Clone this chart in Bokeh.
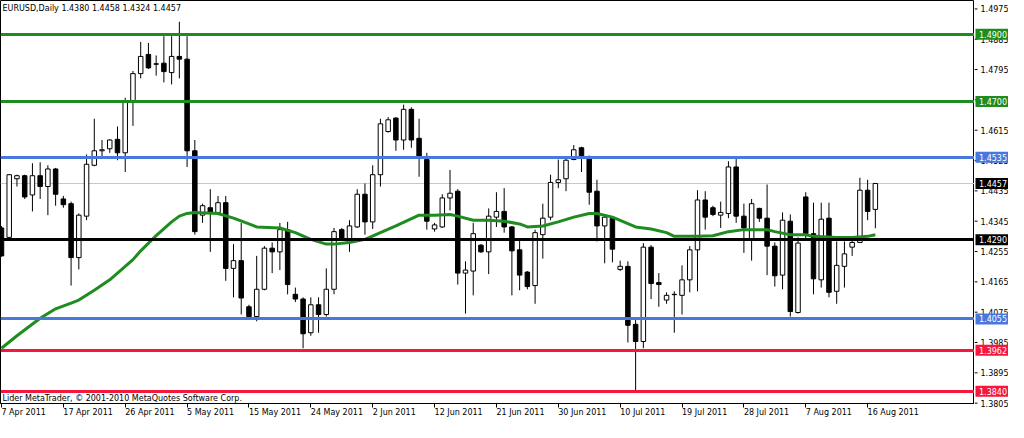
from bokeh.plotting import figure
from bokeh.layouts import row
from bokeh.models import ColumnDataSource, FixedTicker, Label, Range1d
from bokeh.core.properties import value
from bokeh.embed import file_html
from bokeh.resources import INLINE

symbol_title = "EURUSD,Daily  1.4380 1.4458 1.4324 1.4457"
copyright_text = "Lider MetaTrader, \u00a9 2001-2010 MetaQuotes Software Corp."

date_ticks = [0, 8, 16, 24, 32, 40, 48, 56, 64, 72, 80, 88, 96, 104, 112]
date_labels = ["7 Apr 2011", "17 Apr 2011", "26 Apr 2011", "5 May 2011", "15 May 2011",
               "24 May 2011", "2 Jun 2011", "12 Jun 2011", "21 Jun 2011", "30 Jun 2011",
               "10 Jul 2011", "19 Jul 2011", "28 Jul 2011", "7 Aug 2011", "16 Aug 2011"]
price_ticks = [1.3805, 1.3895, 1.3985, 1.4075, 1.4165, 1.4255, 1.4345, 1.4435,
               1.4525, 1.4615, 1.4705, 1.4795, 1.4885, 1.4975]

opens = [1.4325, 1.4297, 1.4471, 1.4480, 1.4423, 1.4480, 1.4448, 1.4500, 1.4411, 1.4397,
         1.4237, 1.4360, 1.4511, 1.4554, 1.4560, 1.4588, 1.4548, 1.4700, 1.4783, 1.4840,
         1.4812, 1.4814, 1.4786, 1.4834, 1.4826, 1.4554, 1.4363, 1.4385, 1.4371, 1.4400,
         1.4205, 1.4228, 1.4091, 1.4062, 1.4143, 1.4265, 1.4254, 1.4320, 1.4128, 1.4114,
         1.4014, 1.4097, 1.4068, 1.4143, 1.4320, 1.4282, 1.4328, 1.4425, 1.4343, 1.4483,
         1.4611, 1.4651, 1.4586, 1.4677, 1.4591, 1.4528, 1.4322, 1.4328, 1.4414, 1.4434,
         1.4191, 1.4197, 1.4274, 1.4254, 1.4357, 1.4374, 1.4328, 1.4260, 1.4194, 1.4154,
         1.4305, 1.4357, 1.4460, 1.4471, 1.4528, 1.4563, 1.4537, 1.4434, 1.4331, 1.4354,
         1.4202, 1.4211, 1.4039, 1.3988, 1.4268, 1.4163, 1.4111, 1.4128, 1.4125, 1.4171,
         1.4260, 1.4408, 1.4385, 1.4363, 1.4368, 1.4506, 1.4360, 1.4291, 1.4383, 1.4354,
         1.4271, 1.4185, 1.4345, 1.4074, 1.4417, 1.4308, 1.4171, 1.4354, 1.4137, 1.4211,
         1.4268, 1.4282, 1.4437, 1.4380]
highs = [1.4331, 1.4485, 1.4483, 1.4483, 1.4517, 1.4520, 1.4511, 1.4503, 1.4420, 1.4403,
         1.4368, 1.4543, 1.4649, 1.4586, 1.4588, 1.4626, 1.4711, 1.4791, 1.4877, 1.4874,
         1.4837, 1.4894, 1.4894, 1.4937, 1.4894, 1.4586, 1.4397, 1.4440, 1.4420, 1.4420,
         1.4277, 1.4340, 1.4097, 1.4242, 1.4271, 1.4282, 1.4340, 1.4343, 1.4148, 1.4119,
         1.4119, 1.4119, 1.4205, 1.4325, 1.4325, 1.4348, 1.4440, 1.4457, 1.4511, 1.4649,
         1.4654, 1.4654, 1.4691, 1.4683, 1.4649, 1.4548, 1.4340, 1.4425, 1.4497, 1.4440,
         1.4226, 1.4340, 1.4277, 1.4383, 1.4431, 1.4443, 1.4331, 1.4291, 1.4197, 1.4320,
         1.4397, 1.4483, 1.4528, 1.4534, 1.4571, 1.4566, 1.4540, 1.4468, 1.4360, 1.4360,
         1.4228, 1.4226, 1.4054, 1.4280, 1.4274, 1.4191, 1.4134, 1.4137, 1.4214, 1.4271,
         1.4437, 1.4434, 1.4391, 1.4403, 1.4523, 1.4531, 1.4397, 1.4411, 1.4385, 1.4454,
         1.4282, 1.4371, 1.4365, 1.4297, 1.4431, 1.4400, 1.4400, 1.4400, 1.4285, 1.4285,
         1.4291, 1.4474, 1.4468, 1.4458]
lows = [1.4240, 1.4291, 1.4448, 1.4411, 1.4374, 1.4411, 1.4363, 1.4391, 1.4385, 1.4154,
        1.4202, 1.4348, 1.4508, 1.4534, 1.4548, 1.4526, 1.4491, 1.4628, 1.4769, 1.4797,
        1.4777, 1.4757, 1.4751, 1.4769, 1.4506, 1.4305, 1.4340, 1.4254, 1.4363, 1.4168,
        1.4119, 1.4068, 1.4057, 1.4048, 1.4140, 1.4191, 1.4200, 1.4128, 1.4105, 1.3968,
        1.4005, 1.4014, 1.4062, 1.4128, 1.4291, 1.4254, 1.4325, 1.4305, 1.4322, 1.4448,
        1.4608, 1.4554, 1.4557, 1.4563, 1.4477, 1.4320, 1.4314, 1.4325, 1.4377, 1.4157,
        1.4071, 1.4125, 1.4251, 1.4188, 1.4328, 1.4311, 1.4125, 1.4140, 1.4143, 1.4100,
        1.4234, 1.4348, 1.4443, 1.4434, 1.4526, 1.4491, 1.4394, 1.4285, 1.4220, 1.4223,
        1.4197, 1.3985, 1.3839, 1.3968, 1.4114, 1.4091, 1.4100, 1.4014, 1.4068, 1.4134,
        1.4137, 1.4320, 1.4360, 1.4325, 1.4354, 1.4340, 1.4251, 1.4228, 1.4343, 1.4185,
        1.4151, 1.4143, 1.4062, 1.4071, 1.4291, 1.4128, 1.4148, 1.4119, 1.4100, 1.4148,
        1.4242, 1.4280, 1.4348, 1.4324]
closes = [1.4242, 1.4483, 1.4480, 1.4417, 1.4480, 1.4448, 1.4500, 1.4425, 1.4394, 1.4237,
          1.4363, 1.4514, 1.4554, 1.4557, 1.4586, 1.4548, 1.4700, 1.4783, 1.4834, 1.4800,
          1.4811, 1.4789, 1.4834, 1.4826, 1.4554, 1.4314, 1.4391, 1.4371, 1.4400, 1.4205,
          1.4228, 1.4117, 1.4062, 1.4143, 1.4265, 1.4254, 1.4320, 1.4157, 1.4114, 1.4011,
          1.4097, 1.4068, 1.4143, 1.4314, 1.4294, 1.4331, 1.4425, 1.4343, 1.4483, 1.4634,
          1.4646, 1.4586, 1.4677, 1.4586, 1.4534, 1.4345, 1.4334, 1.4414, 1.4428, 1.4191,
          1.4200, 1.4308, 1.4254, 1.4360, 1.4374, 1.4328, 1.4257, 1.4185, 1.4151, 1.4311,
          1.4354, 1.4460, 1.4468, 1.4526, 1.4557, 1.4534, 1.4431, 1.4331, 1.4357, 1.4262,
          1.4211, 1.4036, 1.3988, 1.4268, 1.4160, 1.4157, 1.4125, 1.4127, 1.4171, 1.4260,
          1.4408, 1.4357, 1.4365, 1.4371, 1.4506, 1.4360, 1.4325, 1.4397, 1.4354, 1.4271,
          1.4183, 1.4348, 1.4077, 1.4280, 1.4308, 1.4174, 1.4351, 1.4134, 1.4214, 1.4248,
          1.4282, 1.4437, 1.4374, 1.4457]

ma_bars = [0, 2, 5, 7, 9, 10, 12, 14, 15, 17, 18, 20, 22, 23, 24, 25, 28, 30, 32, 33,
           36, 38, 40, 42, 43, 45, 47, 49, 51, 54, 56, 58, 59, 61, 63, 65, 67, 68, 70, 72,
           74, 76, 77, 79, 82, 84, 86, 87, 90, 92, 94, 96, 99, 100, 102, 104, 105, 108, 110,
           112, 113]
ma_vals = [1.3968, 1.4005, 1.4057, 1.4085, 1.4102, 1.4111, 1.4140, 1.4171, 1.4191, 1.4231,
           1.4257, 1.4302, 1.4343, 1.4360, 1.4368, 1.4371, 1.4368, 1.4354, 1.4337, 1.4328,
           1.4325, 1.4311, 1.4291, 1.4277, 1.4277, 1.4282, 1.4291, 1.4311, 1.4331, 1.4363,
           1.4363, 1.4365, 1.4360, 1.4348, 1.4348, 1.4345, 1.4337, 1.4328, 1.4331, 1.4343,
           1.4357, 1.4368, 1.4368, 1.4357, 1.4328, 1.4322, 1.4311, 1.4300, 1.4300, 1.4302,
           1.4314, 1.4320, 1.4320, 1.4314, 1.4305, 1.4305, 1.4300, 1.4297, 1.4297, 1.4300,
           1.4305]

level_prices = [1.4900, 1.4700, 1.4535, 1.4290, 1.4055, 1.3962, 1.3840]
level_colors = ["#1e8c1e", "#1e8c1e", "#4878dc", "#000000", "#4878dc", "#f5173e", "#f5173e"]
last_price = 1.4457

box_prices = [1.4900, 1.4700, 1.4535, 1.4457, 1.4290, 1.4055, 1.3962, 1.3840]
box_colors = ["#1e8c1e", "#1e8c1e", "#4878dc", "#000000", "#000000", "#4878dc", "#f5173e", "#f5173e"]

FONT = "DejaVu Sans"
FS = "8px"
X0, X1 = -0.128, 125.82
Y0, Y1 = 1.3804, 1.5000
FRAME_W, FRAME_H = 974, 403
STRIP_W = 34
STRIP_EXT = 14  # extra pixels below the chart frame for the lowest scale label

p = figure(frame_width=FRAME_W, frame_height=FRAME_H,
           x_range=Range1d(X0, X1), y_range=Range1d(Y0, Y1),
           y_axis_location=None, output_backend="svg", toolbar_location=None,
           min_border_left=0, min_border_top=0, min_border_right=0, min_border_bottom=0,
           background_fill_color="white", border_fill_color="white")
p.grid.visible = False
p.outline_line_color = "black"
p.outline_line_width = 1

idx = list(range(len(opens)))
src = ColumnDataSource(dict(
    x=idx, o=opens, h=highs, l=lows, c=closes,
    top=[max(a, b) for a, b in zip(opens, closes)],
    bot=[min(a, b) for a, b in zip(opens, closes)],
    fill=["white" if c >= o else "black" for o, c in zip(opens, closes)],
))

p.hspan(y=[last_price], line_color="#c8c8c8", line_width=1)
p.segment(x0="x", y0="l", x1="x", y1="h", source=src, line_color="black", line_width=1)
p.vbar(x="x", top="top", bottom="bot", width=0.58, source=src,
       fill_color="fill", line_color="black", line_width=1)
p.line(ma_bars, ma_vals, line_color="#1e8c1e", line_width=3)
lvl = ColumnDataSource(dict(y=level_prices, color=level_colors))
p.hspan(y="y", line_color="color", line_width=3, source=lvl)

# x axis: tick marks at the date bars, labels starting at the tick (tiny negative angle
# makes Bokeh left-align the labels on a bottom axis)
ax = p.xaxis[0]
ax.ticker = FixedTicker(ticks=date_ticks)
ax.major_label_overrides = {t: s for t, s in zip(date_ticks, date_labels)}
ax.major_label_orientation = -0.0001
ax.major_label_standoff = 5
ax.major_label_text_font = FONT
ax.major_label_text_font_size = FS
ax.major_label_text_color = "black"
ax.major_tick_out = 4
ax.major_tick_in = 0
ax.minor_tick_out = 0
ax.minor_tick_in = 0
ax.axis_line_color = "black"

p.add_layout(Label(x=0.13, y=1.4975, text=symbol_title, text_font=FONT,
                   text_font_size=FS, text_baseline="middle", text_color="black"))
p.add_layout(Label(x=0.13, y=1.3819, text=copyright_text, text_font=FONT,
                   text_font_size=FS, text_baseline="middle", text_color="black"))

# right-hand price scale strip (same pixels-per-price as the chart)
ext_price = STRIP_EXT * (Y1 - Y0) / FRAME_H
s = figure(frame_width=STRIP_W, frame_height=FRAME_H + STRIP_EXT,
           x_range=Range1d(0, STRIP_W), y_range=Range1d(Y0 - ext_price, Y1),
           x_axis_location=None, y_axis_location=None,
           output_backend="svg", toolbar_location=None,
           min_border_left=0, min_border_top=0, min_border_right=0, min_border_bottom=0,
           background_fill_color="white", border_fill_color="white")
s.grid.visible = False
s.outline_line_color = None

n_t = len(price_ticks)
tsrc = ColumnDataSource(dict(y=price_ticks, x0=[0] * n_t, x1=[3] * n_t, xt=[6] * n_t,
                             t=["%.4f" % v for v in price_ticks]))
s.segment(x0="x0", y0="y", x1="x1", y1="y", source=tsrc, line_color="black", line_width=1)
s.text(x="xt", y="y", text="t", source=tsrc, text_font=value(FONT),
       text_font_size=value(FS), text_baseline="middle", text_align="left",
       text_color="black")

n_b = len(box_prices)
bsrc = ColumnDataSource(dict(y=box_prices, c=box_colors, xc=[17.5] * n_b, xt=[4.5] * n_b,
                             t=["%.4f" % v for v in box_prices]))
s.rect(x="xc", y="y", width=33, height=11, height_units="screen", source=bsrc,
       fill_color="c", line_color=None)
s.text(x="xt", y="y", text="t", source=bsrc, text_font=value(FONT),
       text_font_size=value(FS), text_baseline="middle", text_align="left",
       text_color="white")

layout = row(p, s)
open("out.html", "w").write(file_html(layout, INLINE))
